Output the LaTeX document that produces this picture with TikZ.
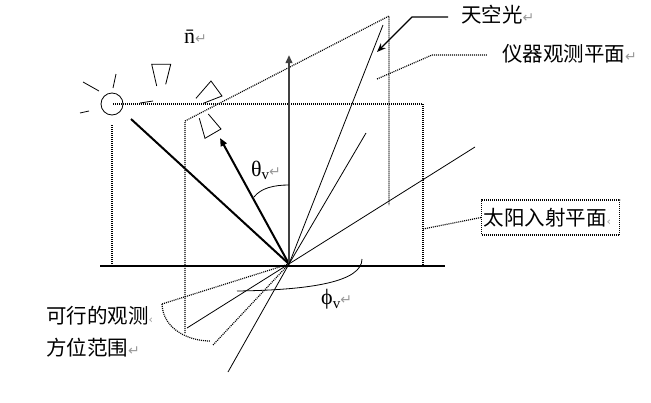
\documentclass[tikz,border=0pt]{standalone}
\usepackage{fontspec}
\setmainfont{Liberation Serif}
\newfontfamily\cjk{Noto Sans CJK SC}
\newfontfamily\symf{DejaVu Sans}
\usetikzlibrary{arrows.meta}
\definecolor{pmgray}{gray}{0.6}
\definecolor{normalgray}{gray}{0.25}
\newcommand{\pmk}{{\symf\fontsize{14}{14}\selectfont\textcolor{pmgray}{↵}}}
\newcommand{\pmcut}{{\symf\fontsize{11}{11}\selectfont\textcolor{pmgray}{‹}}}
\tikzset{
  thinline/.style={line width=0.8pt},
  boldline/.style={line width=2pt},
  dotline/.style={line width=1.2pt, dash pattern=on 1pt off 1pt},
  cjklabel/.style={inner sep=0pt, anchor=west, font=\cjk\fontsize{20.5}{21}\selectfont},
  symlabel/.style={inner sep=0pt, anchor=base west, font=\fontsize{22}{23}\selectfont},
  conebox/.style={line width=0.8pt, line join=miter},
  tri/.style={-{Triangle[length=8pt,width=6.5pt]}},
}
\begin{document}
\begin{tikzpicture}[x=1pt,y=-1pt]
\useasboundingbox (0,0) rectangle (651,402);
% key points
\coordinate (O) at (289,264);
\coordinate (S) at (112,104);
% ground line
\coordinate (G1) at (100,266);
\coordinate (G2) at (445,266);
\draw[line width=1.1pt] (G1) -- (G2);
% sun
\node[draw, circle, line width=0.8pt, minimum size=22pt, inner sep=0pt] (sun) at (S) {};
\coordinate (r1a) at (83,82);  \coordinate (r1b) at (99,91);
\coordinate (r2a) at (116,74); \coordinate (r2b) at (113,88);
\coordinate (r3a) at (80,113); \coordinate (r3b) at (89,111);
\coordinate (r4a) at (140,103); \coordinate (r4b) at (153,101);
\draw[thinline] (r1a) -- (r1b);
\draw[thinline] (r2a) -- (r2b);
\draw[thinline] (r3a) -- (r3b);
\draw[thinline] (r4a) -- (r4b);
% solar incidence plane
\coordinate (P1) at (113,104);
\coordinate (P2) at (423,104);
\coordinate (P3) at (423,266);
\coordinate (P0) at (112,125);
\coordinate (P0b) at (112,266);
\draw[dotline] (P1) -- (P2) -- (P3);
\draw[dotline] (P0) -- (P0b);
% instrument plane
\coordinate (Q1) at (185,333);
\coordinate (Q2) at (185,121);
\coordinate (Q3) at (389,16);
\coordinate (Q4) at (389,205);
\draw[dotline] (Q1) -- (Q2) -- (Q3) -- (Q4);
% cones
\coordinate (c1a) at (156.7,86); \coordinate (c1b) at (151.7,64.3);
\coordinate (c1c) at (170.7,64.3); \coordinate (c1d) at (165.7,84.3);
\draw[conebox] (c1a) -- (c1b) -- (c1c) -- (c1d);
\coordinate (c2a) at (196,98.3); \coordinate (c2b) at (211,81);
\coordinate (c2c) at (222,96); \coordinate (c2d) at (203.3,103.3);
\draw[conebox] (c2a) -- (c2b) -- (c2c) -- (c2d);
\coordinate (c3a) at (199.3,118.3); \coordinate (c3b) at (205,138.3);
\coordinate (c3c) at (221,129); \coordinate (c3d) at (208.3,114);
\draw[conebox] (c3a) -- (c3b) -- (c3c) -- (c3d);
% rays from O
\coordinate (sunray) at (131,119);
\coordinate (view) at (220,138);
\coordinate (zen) at (289,55);
\coordinate (sky1) at (383,25);
\coordinate (sky2) at (366,133);
\coordinate (L1) at (475,147);
\coordinate (L1b) at (187,328);
\coordinate (L2) at (228,372);
\coordinate (D1) at (162,304);
\coordinate (D2) at (213,345);
\draw[boldline] (O) -- (sunray);
\draw[boldline, tri] (O) -- (view);
\draw[boldline, normalgray, tri] (O) -- (zen);
\draw[thinline] (O) -- (sky1);
\draw[thinline] (O) -- (sky2);
\draw[thinline] (L1b) -- (L1);
\draw[thinline] (O) -- (L2);
\draw[dotline] (O) -- (D1);
\draw[dotline] (O) -- (D2);
\draw[dotline] (D1) .. controls (163,330) and (190,341) .. (210,341);
% angle arcs
\coordinate (th1) at (254,197);
\coordinate (th2) at (289,185);
\draw[thinline] (th1) .. controls (261,188) and (274,185) .. (th2);
\coordinate (ph1) at (237,291);
\coordinate (ph2) at (362,259);
\draw[thinline] (ph1) .. controls (310,290) and (362,282) .. (ph2);
% labels
\node[symlabel] (nlab) at (184,43) {\=n\pmk};
\node[symlabel] (thlab) at (251,176) {θ\raisebox{-3.5pt}{\fontsize{15}{15}\selectfont v}\pmk};
\node[symlabel] (phlab) at (321,304) {ϕ\raisebox{-4pt}{\fontsize{15}{15}\selectfont v}\pmk};
% sky light label and leader
\node[cjklabel] (skylab) at (461,15) {天空光\pmk};
\coordinate (sk1) at (448,17);
\coordinate (sk2) at (412,17);
\coordinate (sk3) at (377,52);
\draw[line width=1.3pt, -{Stealth[length=9pt,width=7pt]}] (sk1) -- (sk2) -- (sk3);
% instrument plane label
\node[cjklabel] (inslab) at (502,54) {仪器观测平面\pmk};
\coordinate (in1) at (377,79);
\coordinate (in2) at (432,55);
\coordinate (in3) at (487,55);
\draw[dotline] (in1) -- (in2) -- (in3);
% solar plane label
\node[draw, dotline, inner xsep=2pt, inner ysep=0pt, minimum height=35pt, minimum width=138pt, text width=134pt, anchor=west, font=\cjk\fontsize{20.5}{21}\selectfont] (sollab) at (481,217.5) {太阳入射平面\pmcut};
\coordinate (so1) at (423,229);
\draw[dotline] (so1) -- (sollab.west);
% feasible azimuth label
\node[cjklabel] (az1) at (46,316) {可行的观测\pmcut};
\node[cjklabel] (az2) at (46,348) {方位范围\pmk};
\end{tikzpicture}
\end{document}
